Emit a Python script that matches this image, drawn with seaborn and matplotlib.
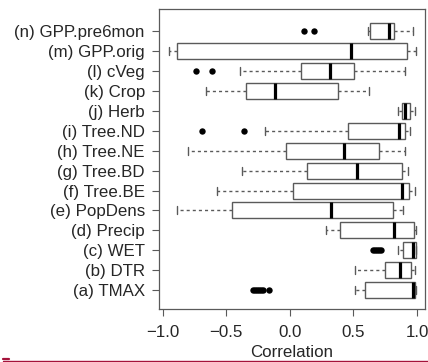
import matplotlib
matplotlib.use("Agg")
import matplotlib.pyplot as plt
import seaborn as sns
import pandas as pd
from matplotlib.lines import Line2D

# ---- data ----
labels = ["(n) GPP.pre6mon", "(m) GPP.orig", "(l) cVeg", "(k) Crop", "(j) Herb",
          "(i) Tree.ND", "(h) Tree.NE", "(g) Tree.BD", "(f) Tree.BE", "(e) PopDens",
          "(d) Precip", "(c) WET", "(b) DTR", "(a) TMAX"]
whisk_lo = [0.617, -0.950, -0.389, -0.661, 0.853, -0.199, -0.798, -0.373, -0.577, -0.892,
            0.283, 0.853, 0.512, 0.512]
q1 = [0.630, -0.892, 0.087, -0.349, 0.885, 0.457, -0.029, 0.136, 0.026, -0.459,
      0.396, 0.887, 0.751, 0.593]
median = [0.777, 0.480, 0.312, -0.115, 0.908, 0.861, 0.428, 0.528, 0.882, 0.320,
          0.819, 0.971, 0.866, 0.971]
q3 = [0.819, 0.919, 0.501, 0.381, 0.942, 0.908, 0.701, 0.882, 0.940, 0.808,
      0.979, 0.990, 0.953, 0.984]
whisk_hi = [0.971, 0.990, 0.908, 0.622, 0.984, 0.942, 0.908, 0.932, 0.982, 0.892,
            0.992, 0.994, 0.987, 0.994]

outlier_labels = ["(n) GPP.pre6mon", "(n) GPP.pre6mon",
                  "(l) cVeg", "(l) cVeg",
                  "(i) Tree.ND", "(i) Tree.ND",
                  "(c) WET", "(c) WET", "(c) WET", "(c) WET", "(c) WET",
                  "(a) TMAX", "(a) TMAX", "(a) TMAX", "(a) TMAX", "(a) TMAX",
                  "(a) TMAX", "(a) TMAX"]
outlier_values = [0.113, 0.191,
                  -0.737, -0.612,
                  -0.693, -0.360,
                  0.655, 0.670, 0.685, 0.700, 0.715,
                  -0.290, -0.275, -0.260, -0.245, -0.230, -0.215, -0.163]

xticks = [-1.0, -0.5, 0.0, 0.5, 1.0]
xtick_labels = ["\u22121.0", "\u22120.5", "0.0", "0.5", "1.0"]

# ---- build long-form table from the five-number summaries ----
rows = []
for lab, a, b, c, d, e in zip(labels, whisk_lo, q1, median, q3, whisk_hi):
    for v in (a, b, c, d, e):
        rows.append({"var": lab, "value": v})
df = pd.DataFrame(rows)
out_df = pd.DataFrame({"var": outlier_labels, "value": outlier_values})

sns.set_style("ticks")
plt.rcParams["font.family"] = ["Liberation Sans", "DejaVu Sans"]

fig = plt.figure(figsize=(4.28, 3.62), dpi=100)
ax = fig.add_axes([159 / 428, 1 - 309 / 362, (425 - 159) / 428, (309 - 9) / 362])

edge = "#5a5a5a"
sns.boxplot(data=df, x="value", y="var", order=labels, orient="h", ax=ax,
            color="white", linecolor=edge, linewidth=1.0, width=0.8,
            showfliers=False, saturation=1,
            medianprops={"color": "black", "linewidth": 2.3},
            whiskerprops={"color": edge, "linestyle": (0, (2.2, 2.2)), "linewidth": 1.0},
            capprops={"color": edge, "linewidth": 1.0})
sns.stripplot(data=out_df, x="value", y="var", order=labels, orient="h", ax=ax,
              jitter=False, color="black", size=4.6, linewidth=0)

ax.set_xlim(-1.03, 1.063)
ax.set_ylim(13.95, -1.12)
ax.set_xticks(xticks)
ax.set_xticklabels(xtick_labels)
ax.set_xlabel("Correlation", fontsize=12.2, labelpad=3.5)
ax.set_ylabel("")
ax.tick_params(axis="y", length=5.2, width=0.8, color=edge, pad=5, labelsize=12.2)
ax.tick_params(axis="x", length=5.2, width=0.8, color=edge, pad=6.2, labelsize=12.2)
for s in ax.spines.values():
    s.set_color(edge)
    s.set_linewidth(0.9)
    s.set_visible(True)

# thin red rule at the very bottom of the picture
fig.add_artist(Line2D([3 / 428, 1.0], [1.0 / 362, 1.0 / 362], color="#a4123a", linewidth=1.0))
fig.add_artist(Line2D([3 / 428, 9 / 428], [3.5 / 362, 3.5 / 362], color="#a4123a", linewidth=1.6))

fig.savefig("out.png", dpi=100)
